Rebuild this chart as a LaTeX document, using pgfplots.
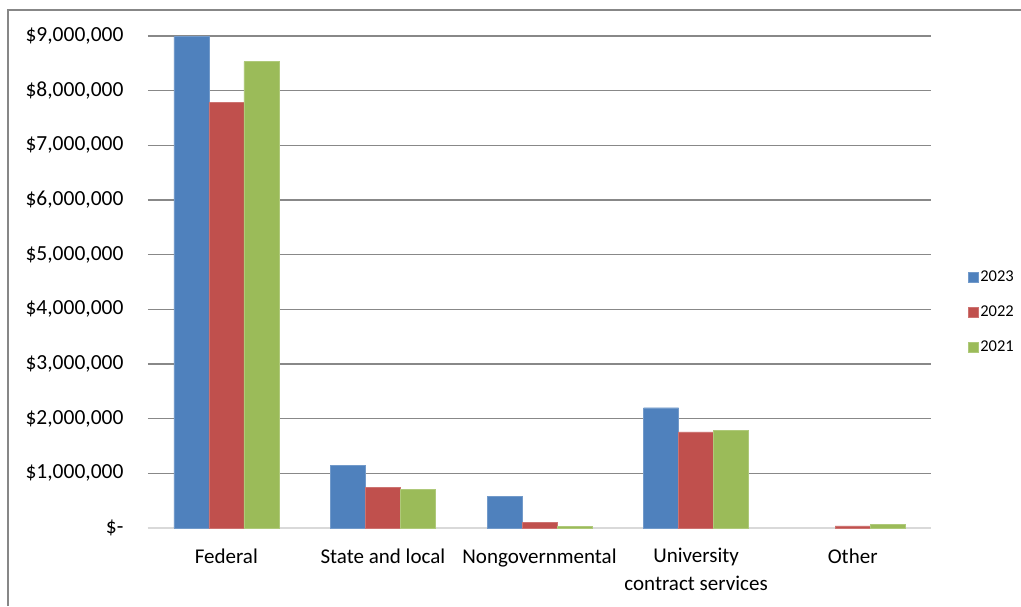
\documentclass[border=0pt]{standalone}
\usepackage{pgfplots}
\pgfplotsset{compat=1.18}
\usepackage{fontspec}
\setmainfont{Carlito}
\definecolor{cblue}{HTML}{4F81BD}
\definecolor{cred}{HTML}{C0504D}
\definecolor{cgreen}{HTML}{9BBB59}
\definecolor{cgrid}{HTML}{888888}
\definecolor{cbase}{HTML}{D9D9D9}
\definecolor{cframe}{HTML}{878787}
\begin{document}
\begin{tikzpicture}[x=1pt,y=1pt]
\path[use as bounding box] (0,0) rectangle (1021,606);
\draw[cframe,line width=1.5pt] (8,0) -- (8,596) -- (1021,596);
\begin{axis}[
  at={(148pt,78pt)}, anchor=south west,
  scale only axis, width=783pt, height=492pt,
  ybar=0pt, bar width=35pt,
  xmin=-0.5, xmax=4.5, ymin=0, ymax=9000000,
  xtick={0,1,2,3,4},
  xticklabels={Federal,State and local,Nongovernmental,{University\\contract services},Other},
  xticklabel style={font=\fontsize{21}{28}\selectfont, align=center, yshift=-17pt},
  ytick={0,1000000,2000000,3000000,4000000,5000000,6000000,7000000,8000000,9000000},
  yticklabels={\$-,{\$1,000,000},{\$2,000,000},{\$3,000,000},{\$4,000,000},{\$5,000,000},{\$6,000,000},{\$7,000,000},{\$8,000,000},{\$9,000,000}},
  yticklabel style={font=\fontsize{21.5}{24}\selectfont, xshift=-21pt},
  scaled y ticks=false,
  major tick length=0pt,
  axis line style={draw=none},
  axis x line*=bottom, axis y line*=left,
  ymajorgrids, grid style={cgrid, line width=1.5pt},
  clip=false,
  legend style={at={(1.043,0.439)}, anchor=west, draw=none, fill=none,
    font=\fontsize{16.5}{19}\selectfont, row sep=19pt,
    nodes={inner sep=2pt}},
  legend cell align=left,
  legend image code/.code={\fill[#1] (0pt,-5pt) rectangle (10pt,5pt);},
]
\draw[cbase, line width=1.5pt] (axis cs:-0.5,0) -- (axis cs:4.5,0);
\addplot[fill=cblue, draw=cblue!80!white, line width=0.4pt] coordinates {(0,9000000) (1,1151000) (2,574000) (3,2200000)};
\addplot[fill=cred, draw=cred!80!white, line width=0.4pt] coordinates {(0,7780000) (1,743000) (2,104000) (3,1760000) (4,37000)};
\addplot[fill=cgreen, draw=cgreen!80!white, line width=0.4pt] coordinates {(0,8530000) (1,706000) (2,30000) (3,1790000) (4,68000)};
\legend{2023,2022,2021}
\end{axis}
\end{tikzpicture}
\end{document}
